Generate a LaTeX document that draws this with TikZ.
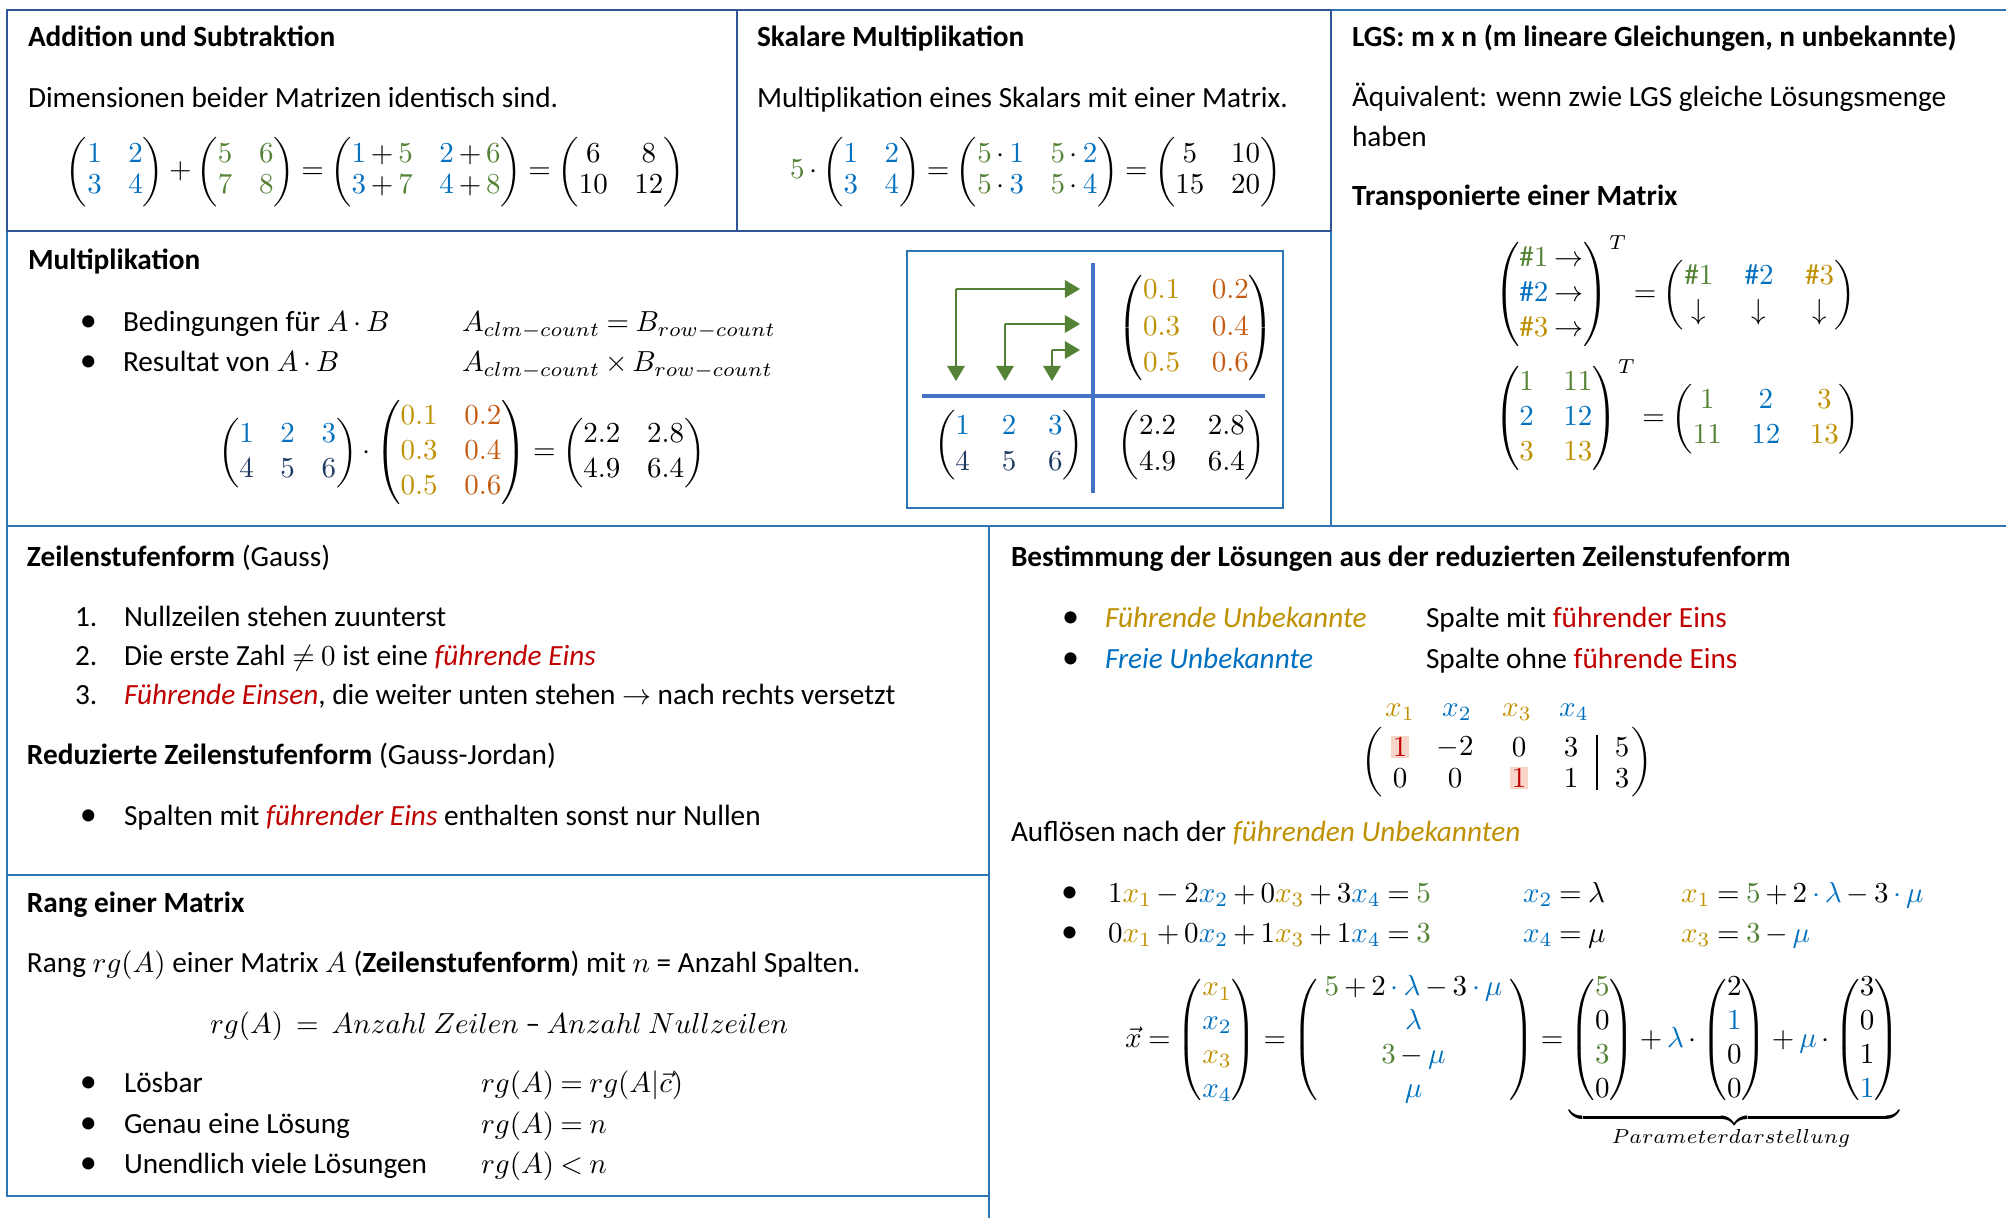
\documentclass[tikz,border=0pt]{standalone}
\usepackage{amsmath}
\usepackage{fontspec}
\setmainfont{Carlito}
\usetikzlibrary{arrows.meta}
\definecolor{mblue}{HTML}{0070C0}
\definecolor{mgreen}{HTML}{548235}
\definecolor{mgold}{HTML}{BF9000}
\definecolor{morange}{HTML}{C55A11}
\definecolor{mnavy}{HTML}{1F3864}
\definecolor{mred}{HTML}{C00000}
\definecolor{frameD}{HTML}{2F5597}
\definecolor{frameL}{HTML}{2E75B6}
\definecolor{divider}{HTML}{4472C4}
\definecolor{hlpink}{HTML}{F9D5C9}
\newcommand{\cB}[1]{{\color{mblue}#1}}
\newcommand{\cG}[1]{{\color{mgreen}#1}}
\newcommand{\cY}[1]{{\color{mgold}#1}}
\newcommand{\cO}[1]{{\color{morange}#1}}
\newcommand{\cN}[1]{{\color{mnavy}#1}}
\newcommand{\cR}[1]{{\color{mred}#1}}
\renewcommand{\arraystretch}{1.0}
\setlength{\arraycolsep}{4.6pt}
\thickmuskip=4mu plus 2mu minus 1mu
\medmuskip=3mu plus 1mu minus 1mu
\begin{document}
\begin{tikzpicture}[x=0.345pt,y=-0.345pt,
  every node/.style={inner sep=0pt, outer sep=0pt},
  txt/.style={anchor=base west, font=\fontsize{10.1}{12}\selectfont},
  hd/.style={anchor=base west, font=\fontsize{10.1}{12}\selectfont\bfseries},
  bul/.style={anchor=base west, font=\fontsize{11.8}{12}\selectfont},
  mat/.style={anchor=center, font=\fontsize{10.1}{12}\selectfont},
  boxA/.style={draw=frameD, line width=1pt},
  boxB/.style={draw=frameL, line width=1pt},
  garrow/.style={draw=mgreen, line width=0.7pt, -{Triangle[length=5.2pt,width=6pt]}},
  hlnode/.style={mat, fill=hlpink, inner xsep=0.6pt, inner ysep=0.7pt},
]
\fill[white] (0,0) rectangle (2006,1218);
\useasboundingbox (0,0) rectangle (2006,1218);

% frames
\draw[boxB] (7,231) rectangle (1331,526);
\draw[boxB] (1331,10) -- (2006,10);
\draw[boxB] (1331,10) -- (1331,526);
\draw[boxB] (7,526) rectangle (989,875);
\draw[boxB] (7,875) rectangle (989,1196);
\draw[boxB] (989,526) -- (989,1218);
\draw[boxB] (989,526) -- (2006,526);
\draw[boxA] (7,10) rectangle (737,231);
\draw[boxA] (737,10) rectangle (1331,231);

% Box 1
\node[hd] (t1) at (28,47) {Addition und Subtraktion};
\node[txt] (d1) at (28,108) {Dimensionen beider Matrizen identisch sind.};
\node[txt] (e1) at (66,179) {\renewcommand{\arraystretch}{0.88}$\begin{pmatrix}\cB1&\cB2\\\cB3&\cB4\end{pmatrix}+\begin{pmatrix}\cG5&\cG6\\\cG7&\cG8\end{pmatrix}=\begin{pmatrix}\cB1+\cG5&\cB2+\cG6\\\cB3+\cG7&\cB4+\cG8\end{pmatrix}=\begin{pmatrix}6&8\\10&12\end{pmatrix}$};

% Box 2
\node[hd] (t2) at (757,47) {Skalare Multiplikation};
\node[txt] (d2) at (757,108) {Multiplikation eines Skalars mit einer Matrix.};
\node[txt] (e2) at (790,179) {\renewcommand{\arraystretch}{0.9}$\cG5\cdot\begin{pmatrix}\cB1&\cB2\\\cB3&\cB4\end{pmatrix}=\begin{pmatrix}\cG5\cdot\cB1&\cG5\cdot\cB2\\\cG5\cdot\cB3&\cG5\cdot\cB4\end{pmatrix}=\begin{pmatrix}5&10\\15&20\end{pmatrix}$};

% Box 3
\node[hd] (t3) at (1352,47) {LGS: m x n (m lineare Gleichungen, n unbekannte)};
\node[txt] (d3a) at (1352,107) {Äquivalent: wenn zwie LGS gleiche Lösungsmenge};
\node[txt] (d3b) at (1352,147) {haben};
\node[hd] (t3b) at (1352,206) {Transponierte einer Matrix};
\node[txt] (e3a) at (1494,302) {\setlength{\arraycolsep}{5.4pt}$\begin{pmatrix}\cG{\#1}\rightarrow\\\cB{\#2}\rightarrow\\\cY{\#3}\rightarrow\end{pmatrix}^{T}=\begin{pmatrix}\cG{\#1}&\cB{\#2}&\cY{\#3}\\\downarrow&\downarrow&\downarrow\end{pmatrix}$};
\node[txt] (e3b) at (1494,426) {\setlength{\arraycolsep}{5.1pt}$\begin{pmatrix}\cG1&\cG{11}\\\cB2&\cB{12}\\\cY3&\cY{13}\end{pmatrix}^{T}=\begin{pmatrix}\cG1&\cB2&\cY3\\\cG{11}&\cB{12}&\cY{13}\end{pmatrix}$};

% Multiplikation
\node[hd] (t4) at (28,270) {Multiplikation};
\node[bul] (b4a) at (80,332) {\textbullet};
\node[txt] (l4a) at (123,332) {Bedingungen für $A\cdot B$};
\node[txt] (m4a) at (462,332) {$A_{clm-count}=B_{row-count}$};
\node[bul] (b4b) at (80,372) {\textbullet};
\node[txt] (l4b) at (123,372) {Resultat von $A\cdot B$};
\node[txt] (m4b) at (462,372) {$A_{clm-count}\times B_{row-count}$};
\node[txt] (e4) at (218,460) {$\begin{pmatrix}\cB1&\cB2&\cB3\\\cN4&\cN5&\cN6\end{pmatrix}\cdot\begin{pmatrix}\cY{0.1}&\cO{0.2}\\\cY{0.3}&\cO{0.4}\\\cY{0.5}&\cO{0.6}\end{pmatrix}=\begin{pmatrix}2.2&2.8\\4.9&6.4\end{pmatrix}$};

% inner scheme
\draw[draw=frameL, line width=1pt] (907,251) rectangle (1283,508);
\draw[draw=divider, line width=1.3pt] (1093,263) -- (1093,493);
\draw[draw=divider, line width=1.3pt] (922,396) -- (1265,396);
\node[mat] (mB) at (1196,328) {\renewcommand{\arraystretch}{1.05}\setlength{\arraycolsep}{5.5pt}$\begin{pmatrix}\cY{0.1}&\cO{0.2}\\\cY{0.3}&\cO{0.4}\\\cY{0.5}&\cO{0.6}\end{pmatrix}$};
\node[mat] (mA) at (1009,445) {\renewcommand{\arraystretch}{1.05}\setlength{\arraycolsep}{5.5pt}$\begin{pmatrix}\cB1&\cB2&\cB3\\\cN4&\cN5&\cN6\end{pmatrix}$};
\node[mat] (mC) at (1192,445) {\renewcommand{\arraystretch}{1.05}\setlength{\arraycolsep}{5.5pt}$\begin{pmatrix}2.2&2.8\\4.9&6.4\end{pmatrix}$};
\coordinate (a1s) at (956,289); \coordinate (a1e) at (1080,289); \coordinate (a1d) at (956,381);
\coordinate (a2s) at (1005,324); \coordinate (a2e) at (1080,324); \coordinate (a2d) at (1005,381);
\coordinate (a3s) at (1052,350); \coordinate (a3e) at (1080,350); \coordinate (a3d) at (1052,381);
\draw[garrow] (a1s) -- (a1e); \draw[garrow] (a1s) -- (a1d);
\draw[garrow] (a2s) -- (a2e); \draw[garrow] (a2s) -- (a2d);
\draw[garrow] (a3s) -- (a3e); \draw[garrow] (a3s) -- (a3d);

% Zeilenstufenform
\node[txt] (t5) at (27,567) {\textbf{Zeilenstufenform} (Gauss)};
\node[txt] (n51) at (75,627) {1.};
\node[txt] (l51) at (124,627) {Nullzeilen stehen zuunterst};
\node[txt] (n52) at (75,666) {2.};
\node[txt] (l52) at (124,666) {Die erste Zahl $\neq 0$ ist eine \textit{\cR{führende Eins}}};
\node[txt] (n53) at (75,704) {3.};
\node[txt] (l53) at (124,704) {\textit{\cR{Führende Einsen}}, die weiter unten stehen $\rightarrow$ nach rechts versetzt};
\node[txt] (t5b) at (27,765) {\textbf{Reduzierte Zeilenstufenform} (Gauss-Jordan)};
\node[bul] (b5) at (80,825) {\textbullet};
\node[txt] (l5) at (124,825) {Spalten mit \textit{\cR{führender Eins}} enthalten sonst nur Nullen};

% Rang
\node[txt] (t6) at (27,912) {\textbf{Rang einer Matrix}};
\node[txt] (d6) at (27,972) {Rang $rg(A)$ einer Matrix $A$ (\textbf{Zeilenstufenform}) mit $n$ = Anzahl Spalten.};
\node[txt] (f6) at (210,1033) {$rg(A)\ =\ Anzahl\ Zeilen$ – $Anzahl\ Nullzeilen$};
\node[bul] (b6a) at (80,1092) {\textbullet};
\node[txt] (l6a) at (124,1092) {Lösbar};
\node[txt] (m6a) at (481,1092) {$rg(A)=rg(A|\vec{c})$};
\node[bul] (b6b) at (80,1133) {\textbullet};
\node[txt] (l6b) at (124,1133) {Genau eine Lösung};
\node[txt] (m6b) at (481,1133) {$rg(A)=n$};
\node[bul] (b6c) at (80,1173) {\textbullet};
\node[txt] (l6c) at (124,1173) {Unendlich viele Lösungen};
\node[txt] (m6c) at (481,1173) {$rg(A)<n$};

% Bestimmung
\node[txt] (t7) at (1011,567) {\textbf{Bestimmung der Lösungen aus der reduzierten Zeilenstufenform}};
\node[bul] (b7a) at (1062,628) {\textbullet};
\node[txt] (l7a) at (1105,628) {\textit{\cY{Führende Unbekannte}}};
\node[txt] (r7a) at (1426,628) {Spalte mit \cR{führender Eins}};
\node[bul] (b7b) at (1062,668) {\textbullet};
\node[txt] (l7b) at (1105,668) {\textit{\cB{Freie Unbekannte}}};
\node[txt] (r7b) at (1426,668) {Spalte ohne \cR{führende Eins}};
\node[mat] (x1) at (1400,712) {$\cY{x_1}$};
\node[mat] (x2) at (1457,712) {$\cB{x_2}$};
\node[mat] (x3) at (1517,712) {$\cY{x_3}$};
\node[mat] (x4) at (1574,712) {$\cB{x_4}$};
\node[hlnode] (a11) at (1400,747) {$\cR1$};
\node[mat] (a12) at (1455,747) {$-2$};
\node[mat] (a13) at (1519,747) {$0$};
\node[mat] (a14) at (1571,747) {$3$};
\node[mat] (a15) at (1622,747) {$5$};
\node[mat] (a21) at (1400,778) {$0$};
\node[mat] (a22) at (1455,778) {$0$};
\node[hlnode] (a23) at (1519,778) {$\cR1$};
\node[mat] (a24) at (1571,778) {$1$};
\node[mat] (a25) at (1622,778) {$3$};
\draw[line width=0.5pt] (1597,735) -- (1597,790);
\node[mat] (pl) at (1374,762) {\renewcommand{\arraystretch}{0.85}$\left(\vphantom{\begin{matrix}1\\1\end{matrix}}\right.$};
\node[mat] (pr) at (1640,762) {\renewcommand{\arraystretch}{0.85}$\left.\vphantom{\begin{matrix}1\\1\end{matrix}}\right)$};
\node[txt] (d7) at (1011,842) {Auflösen nach der \textit{\cY{führenden Unbekannten}}};
\node[bul] (b7c) at (1061,902) {\textbullet};
\node[txt] (q1) at (1108,902) {$1\cY{x_1}-2\cB{x_2}+0\cY{x_3}+3\cB{x_4}=\cG5$};
\node[txt] (q1b) at (1523,902) {$\cB{x_2}=\lambda$};
\node[txt] (q1c) at (1681,902) {$\cY{x_1}=\cG5+2\mathbin{\cB\cdot}\cB\lambda-3\mathbin{\cB\cdot}\cB\mu$};
\node[bul] (b7d) at (1061,942) {\textbullet};
\node[txt] (q2) at (1108,942) {$0\cY{x_1}+0\cB{x_2}+1\cY{x_3}+1\cB{x_4}=\cG3$};
\node[txt] (q2b) at (1523,942) {$\cB{x_4}=\mu$};
\node[txt] (q2c) at (1681,942) {$\cY{x_3}=\cG3-\cB\mu$};
\node[txt] (v7) at (1125,1047) {\renewcommand{\arraystretch}{0.97}$\vec{x}=\begin{pmatrix}\cY{x_1}\\\cB{x_2}\\\cY{x_3}\\\cB{x_4}\end{pmatrix}=\begin{pmatrix}\ \cG5+2\mathbin{\cB\cdot}\cB\lambda-3\mathbin{\cB\cdot}\cB\mu\ \\\cB\lambda\\\cG3-\cB\mu\\\cB\mu\end{pmatrix}=\underbrace{\begin{pmatrix}\cG5\\0\\\cG3\\0\end{pmatrix}+\cB\lambda\cdot\begin{pmatrix}2\\\cB1\\0\\0\end{pmatrix}+\cB\mu\cdot\begin{pmatrix}3\\0\\1\\\cB1\end{pmatrix}}$};
\node[anchor=base, font=\fontsize{10.1}{12}\selectfont] (pd) at (1731,1143) {$\scriptstyle Parameterdarstellung$};
\end{tikzpicture}
\end{document}
